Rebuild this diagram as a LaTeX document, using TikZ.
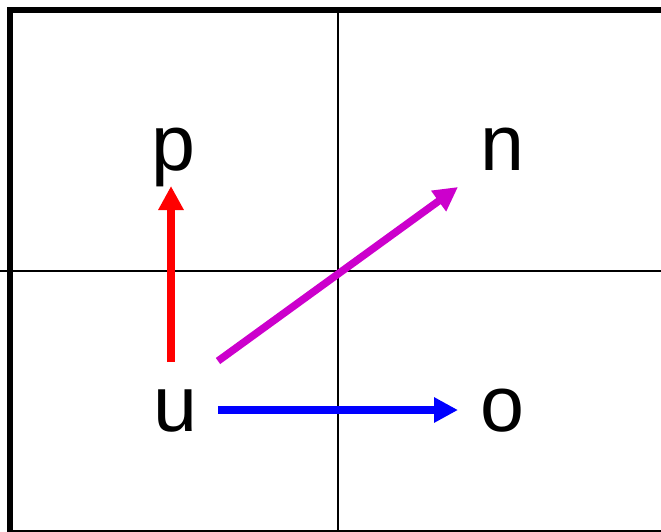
\documentclass[tikz,border=0pt]{standalone}
\usepackage{fontspec}
\setmainfont{Liberation Sans}
\usetikzlibrary{arrows.meta}
\definecolor{mag}{HTML}{CC00CC}
\begin{document}
\begin{tikzpicture}[x=1pt,y=-1pt,
  lbl/.style={anchor=base,inner sep=0pt,font=\fontsize{79}{79}\selectfont},
  vec/.style={line width=7.5pt,-{Triangle[length=24pt,width=24pt]}},
  grid line/.style={line width=2.5pt,black}]
\useasboundingbox (0,0) rectangle (661,531);
\clip (0,0) rectangle (661,531);
\draw[grid line] (338,10) -- (338,540);
\draw[grid line] (0,271) -- (670,271);
\draw[line width=6pt] (10,10) rectangle (666,533.3);
\node[lbl] (p) at (173,170) {p};
\node[lbl] (n) at (502,170) {n};
\node[lbl] (u) at (175,431) {u};
\node[lbl] (o) at (502,431) {o};
\coordinate (rs) at (171,362);
\coordinate (re) at (171,186);
\coordinate (ms) at (218,361);
\coordinate (me) at (458,187);
\coordinate (bs) at (218,410);
\coordinate (be) at (458,410);
\draw[vec,red] (rs) -- (re);
\draw[vec,mag] (ms) -- (me);
\draw[vec,blue] (bs) -- (be);
\end{tikzpicture}
\end{document}
